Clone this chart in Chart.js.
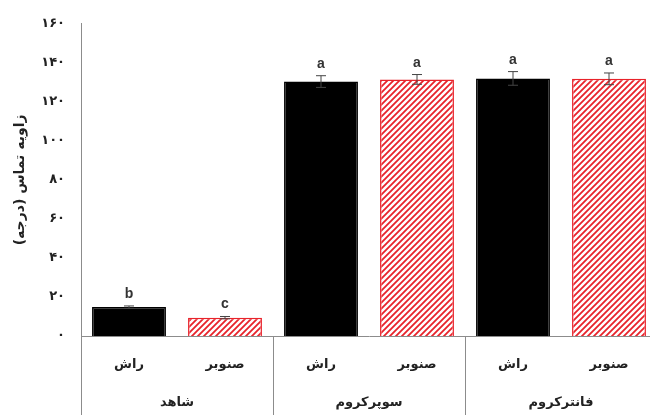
<!DOCTYPE html>
<html>
<head>
<meta charset="utf-8">
<script src="https://cdn.jsdelivr.net/npm/chart.js@4/dist/chart.umd.min.js"></script>
<style>
  html, body { margin: 0; padding: 0; background: #fff; overflow: hidden; }
  #wrap { width: 657px; height: 415px; }
</style>
</head>
<body>
<div id="wrap"><canvas id="grafica" width="657" height="415"></canvas></div>
<script>
// Datos
const grupos = ['شاهد', 'سوپرکروم', 'فانترکروم'];
const maderas = ['راش', 'صنوبر'];
const valores = [14.8, 9.4, 130.4, 131.5, 132, 131.8];
const errores = [0.6, 0.6, 3, 2.5, 3.5, 3];
const letras = ['b', 'c', 'a', 'a', 'a', 'a'];
const tituloY = 'زاویه تماس (درجه)';

const etiquetas = [];
grupos.forEach(g => maderas.forEach(m => etiquetas.push(m)));

const fuentePersa = '"DejaVu Sans", sans-serif';
const digitos = '۰۱۲۳۴۵۶۷۸۹';
function aPersa(n) {
  return String(n).replace(/\d/g, d => digitos[d]);
}

// Patrón rayado rojo para صنوبر
function crearRayado() {
  const c = document.createElement('canvas');
  c.width = 6; c.height = 6;
  const p = c.getContext('2d');
  p.fillStyle = '#fff';
  p.fillRect(0, 0, 6, 6);
  p.strokeStyle = '#e8232b';
  p.lineWidth = 1.8;
  p.beginPath();
  p.moveTo(-1, 7); p.lineTo(7, -1);
  p.moveTo(-4, 4); p.lineTo(4, -4);
  p.moveTo(2, 10); p.lineTo(10, 2);
  p.stroke();
  return p.createPattern(c, 'repeat');
}
const rayado = crearRayado();

const colores = etiquetas.map((_, i) => i % 2 === 0 ? '#000' : rayado);
const bordes = etiquetas.map((_, i) => i % 2 === 0 ? '#000' : '#e8232b');

// Barras de error, letras y etiquetas de categoría
const extras = {
  id: 'extras',
  afterDatasetsDraw(chart) {
    const ctx = chart.ctx;
    const x = chart.scales.x, y = chart.scales.y;
    ctx.save();
    valores.forEach((v, i) => {
      const cx = x.getPixelForValue(i);
      const yArr = y.getPixelForValue(v + errores[i]);
      const yAb = y.getPixelForValue(v - errores[i]);
      ctx.strokeStyle = '#444';
      ctx.lineWidth = 1;
      ctx.beginPath();
      ctx.moveTo(cx, yArr); ctx.lineTo(cx, yAb);
      ctx.moveTo(cx - 5, yArr); ctx.lineTo(cx + 5, yArr);
      ctx.moveTo(cx - 5, yAb); ctx.lineTo(cx + 5, yAb);
      ctx.stroke();
      ctx.fillStyle = '#333';
      ctx.font = 'bold 14px "Liberation Sans", sans-serif';
      ctx.textAlign = 'center';
      ctx.textBaseline = 'alphabetic';
      ctx.fillText(letras[i], cx, yArr - 8);
    });
    ctx.restore();
  },
  afterDraw(chart) {
    const ctx = chart.ctx;
    const x = chart.scales.x;
    const area = chart.chartArea;
    const alto = chart.height;
    ctx.save();
    ctx.strokeStyle = '#8c8c8c';
    ctx.lineWidth = 1;
    ctx.beginPath();
    ctx.moveTo(area.left + 0.5, area.bottom);
    ctx.lineTo(area.left + 0.5, alto);
    grupos.forEach((g, gi) => {
      const xd = Math.round((x.getPixelForValue(gi * 2 + 1) + x.getPixelForValue(gi * 2 + 2)) / 2) + 0.5;
      ctx.moveTo(xd, area.bottom);
      ctx.lineTo(xd, alto);
    });
    ctx.stroke();

    ctx.fillStyle = '#222';
    ctx.font = 'bold 13px ' + fuentePersa;
    ctx.textAlign = 'center';
    ctx.textBaseline = 'middle';
    etiquetas.forEach((t, i) => {
      ctx.fillText(t, x.getPixelForValue(i), area.bottom + 29);
    });
    grupos.forEach((g, gi) => {
      const cx = (x.getPixelForValue(gi * 2) + x.getPixelForValue(gi * 2 + 1)) / 2;
      ctx.fillText(g, cx, area.bottom + 67);
    });
    ctx.restore();
  }
};

const ctx = document.getElementById('grafica').getContext('2d');
const grafica = new Chart(ctx, {
  type: 'bar',
  data: {
    labels: etiquetas,
    datasets: [{
      data: valores,
      backgroundColor: colores,
      borderColor: bordes,
      borderWidth: 1.5,
      barPercentage: 0.77,
      categoryPercentage: 1
    }]
  },
  options: {
    responsive: false,
    animation: false,
    layout: { padding: { top: 23, right: 0, bottom: 0, left: 0 } },
    plugins: {
      legend: { display: false },
      tooltip: { enabled: false }
    },
    scales: {
      x: {
        grid: { display: false, drawTicks: false },
        border: { display: true, color: '#8c8c8c', width: 1 },
        ticks: { display: false },
        afterFit(scale) { scale.height = 79; }
      },
      y: {
        min: 0,
        max: 160,
        grid: { display: false, drawTicks: false },
        border: { display: true, color: '#8c8c8c', width: 1 },
        ticks: {
          stepSize: 20,
          padding: 16,
          color: '#222',
          font: { family: fuentePersa, size: 13, weight: 'bold' },
          callback: v => aPersa(v)
        },
        title: {
          display: true,
          text: tituloY + '\u200F',
          color: '#222',
          font: { family: fuentePersa, size: 14, weight: 'bold' },
          padding: { top: 12, bottom: 0 }
        },
        afterFit(scale) { scale.width = 81; }
      }
    }
  },
  plugins: [extras]
});
</script>
</body>
</html>
